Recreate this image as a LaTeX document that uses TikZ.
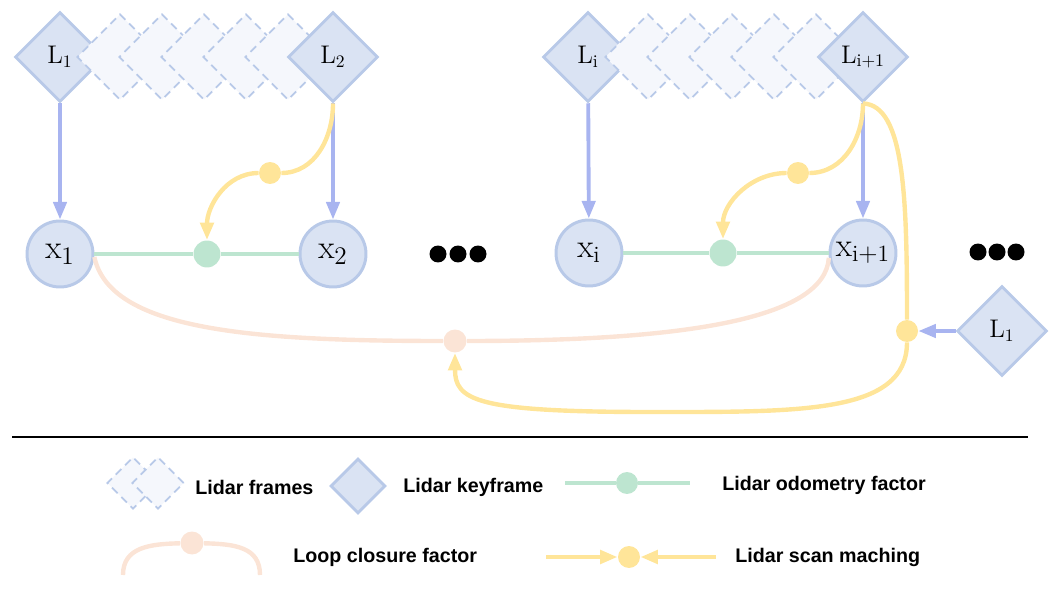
\documentclass[tikz,border=0pt]{standalone}
\usepackage{fontspec}
\newfontfamily\legfont{Liberation Sans}
\usetikzlibrary{shapes.geometric,arrows.meta}
\definecolor{kfill}{RGB}{218,227,243}
\definecolor{kdraw}{RGB}{184,201,232}
\definecolor{ffill}{RGB}{245,247,252}
\definecolor{barrow}{RGB}{168,180,240}
\definecolor{gline}{RGB}{189,229,208}
\definecolor{yline}{RGB}{255,229,153}
\definecolor{pline}{RGB}{251,228,214}
\tikzset{
 keyf/.style={diamond, aspect=1, minimum size=1.8cm, inner sep=0pt, fill=kfill, draw=kdraw, line width=1.7pt, font=\fontsize{14.5}{17}\selectfont},
 framef/.style={diamond, aspect=1, minimum size=1.72cm, inner sep=0pt, fill=ffill, draw=kdraw, line width=1pt, dash pattern=on 4.5pt off 3pt},
 varx/.style={circle, minimum size=1.32cm, inner sep=0pt, fill=kfill, draw=kdraw, line width=1.7pt, font=\fontsize{19}{23}\selectfont},
 gfac/.style={circle, minimum size=0.54cm, inner sep=0pt, fill=gline},
 yfac/.style={circle, minimum size=0.44cm, inner sep=0pt, fill=yline},
 pfac/.style={circle, minimum size=0.46cm, inner sep=0pt, fill=pline},
 dotk/.style={circle, minimum size=0.34cm, inner sep=0pt, fill=black},
 tip/.style={-{Triangle[length=10pt,width=7.5pt]}},
 barr/.style={draw=barrow, line width=2.2pt, tip},
 ylin/.style={draw=yline, line width=2.5pt},
 glin/.style={draw=gline, line width=2.3pt},
 plin/.style={draw=pline, line width=2.5pt},
 legtext/.style={anchor=west, font=\legfont\bfseries\fontsize{11.2}{13}\selectfont, inner sep=0pt},
}
\begin{document}
\begin{tikzpicture}[x=0.02cm,y=-0.02cm]
\useasboundingbox (0,0) rectangle (1049,598);
% ---- group 1
\node[keyf] (L1) at (60,57) {$\mathrm{L}_1$};
\foreach \i/\xx in {1/120,2/162,3/204,4/246,5/288}{\node[framef] (fa\i) at (\xx,57) {};}
\node[keyf] (L2) at (333,57) {$\mathrm{L}_2$};
% ---- group 2
\node[keyf] (Li) at (588,57) {$\mathrm{L}_\mathrm{i}$};
\foreach \i/\xx in {1/648,2/690,3/732,4/774,5/816}{\node[framef] (fb\i) at (\xx,57) {};}
\node[keyf] (Li1) at (863,57) {$\mathrm{L}_{\mathrm{i+1}}$};
% ---- variables
\node[varx] (x1) at (60,254) {$\mathrm{x}_1$};
\node[varx] (x2) at (333,254) {$\mathrm{x}_2$};
\node[varx] (xi) at (589,253) {$\mathrm{x}_\mathrm{i}$};
\node[varx] (xi1) at (863,253) {$\mathrm{x}_{\mathrm{i+1}}$};
% ---- factors
\node[gfac] (f1) at (207,254) {};
\node[gfac] (f2) at (723,253) {};
\node[yfac] (s1) at (270,173) {};
\node[yfac] (s2) at (798,173) {};
\node[yfac] (s3) at (907,331) {};
\node[pfac] (lc) at (455,341) {};
\node[keyf] (Lr) at (1002,331) {$\mathrm{L}_1$};
% ---- dots
\foreach \i/\xx in {1/438,2/458,3/478}{\node[dotk] (da\i) at (\xx,254) {};}
\foreach \i/\xx in {1/978,2/997,3/1016}{\node[dotk] (db\i) at (\xx,252) {};}
% ---- edges
\draw[glin] (x1) -- (f1) -- (x2);
\draw[glin] (xi) -- (f2) -- (xi1);
\draw[barr] (L1) -- (x1);
\draw[barr] (L2) -- (x2);
\draw[barr] (Li) -- (xi);
\draw[barr] (Li1) -- (xi1);
\draw[barr] (Lr) -- (s3);
\draw[ylin] (L2.south) to[out=270,in=0] (s1);
\draw[ylin,tip] (s1) to[out=180,in=90] (f1);
\draw[ylin] (Li1.south) to[out=270,in=0] (s2);
\draw[ylin,tip] (s2) to[out=180,in=90] (f2);
\draw[ylin] (Li1.south) .. controls (905,105) and (907,200) .. (s3);
\draw[ylin,tip] (s3) .. controls (907,414) and (800,412) .. (650,412) .. controls (475,412) and (455,400) .. (lc);
\draw[plin] (x1.-5) .. controls (110,330) and (250,341) .. (lc);
\draw[plin] (lc) .. controls (680,341) and (825,320) .. (xi1.188);
% ---- separator
\coordinate (sepA) at (12,437);
\coordinate (sepB) at (1028,437);
\draw[line width=1pt] (sepA) -- (sepB);
% ---- legend
\node[framef, minimum size=1.04cm] (lf1) at (133,483) {};
\node[framef, minimum size=1.04cm] (lf2) at (158,483) {};
\node[legtext] (tf) at (195,487) {Lidar frames};
\node[keyf, minimum size=1.1cm] (lk) at (358,486) {};
\node[legtext] (tk) at (403,487) {Lidar keyframe};
\coordinate (go1) at (565,483);
\coordinate (go2) at (690,483);
\node[gfac, minimum size=0.44cm] (gd) at (627,483) {};
\draw[glin] (go1) -- (gd) -- (go2);
\node[legtext] (to) at (722,485) {Lidar odometry factor};
\coordinate (pl1) at (123,575);
\coordinate (pl2) at (260,575);
\node[pfac] (pd) at (192,543) {};
\draw[plin] (pl1) .. controls (123,547) and (150,544) .. (pd) .. controls (235,544) and (260,547) .. (pl2);
\node[legtext] (tl) at (293,557) {Loop closure factor};
\coordinate (yl1) at (546,557);
\coordinate (yl2) at (716,557);
\node[yfac] (yd) at (629,557) {};
\draw[ylin,tip] (yl1) -- (yd);
\draw[ylin,tip] (yl2) -- (yd);
\node[legtext] (ts) at (735,557) {Lidar scan maching};
\end{tikzpicture}
\end{document}
